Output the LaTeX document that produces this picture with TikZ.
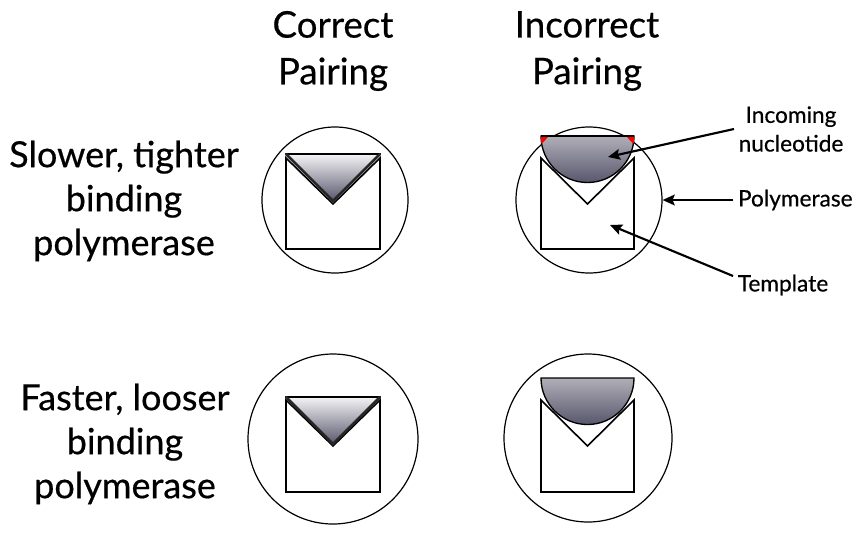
\documentclass[tikz,border=0pt]{standalone}
\usepackage{fontspec}
\setmainfont{Lato}[FakeBold=0.5]
\usetikzlibrary{arrows.meta,positioning,calc}
\definecolor{nucdark}{RGB}{88,86,108}
\definecolor{nuclight}{RGB}{244,244,246}
\definecolor{nucmid}{RGB}{176,175,184}

\begin{document}
\begin{tikzpicture}[x=0.75pt,y=-0.75pt]
\tikzset{
  head/.style ={align=center, font=\fontsize{27.5}{35}\selectfont},
  rowlbl/.style={align=center, font=\fontsize{27}{33}\selectfont},
  part/.style ={align=center, font=\fontsize{17}{21.5}\selectfont},
  pol/.style  ={draw, circle, line width=0.9pt, inner sep=0pt},
  tmpl/.style ={draw, line width=1.2pt, fill=white, line join=miter},
  tri/.style  ={top color=nuclight, bottom color=nucdark},
  half/.style ={top color=nucmid, bottom color=nucdark, draw, line width=1pt},
  edge/.style ={line width=2pt, line cap=round, draw=black!85},
  ptr/.style  ={-{Stealth[length=9pt,width=8pt,inset=1.5pt]}, line width=1.6pt}
}
\useasboundingbox (0,0) rectangle (864,537);
% column and row titles
\node (hc)[head] at (333,51) {Correct\\Pairing};
\node (hi)[head] at (587,51) {Incorrect\\Pairing};
\node (rs)[rowlbl] at (124,201) {Slower, tighter\\binding\\polymerase};
\node (rf)[rowlbl] at (125,444) {Faster, looser\\binding\\polymerase};
% polymerases
\node (p1)[pol, minimum size=109.5pt] at (335,200) {};
\node (p2)[pol, minimum size=109.5pt] at (589,200) {};
\node (p3)[pol, minimum size=127.5pt] at (333,439) {};
\node (p4)[pol, minimum size=126pt] at (588,438) {};
% tight, correct
\draw[tmpl] (286,158) -- (333,204) -- (380,158) -- (380,249) -- (286,249) -- cycle;
\shade[tri] (286,154) -- (380,154) -- (333,201) -- cycle;
\draw[line width=0.9pt] (286,154) -- (380,154);
\draw[edge] (286,154) -- (333,201) -- (380,154);
% tight, incorrect
\draw[tmpl] (541,158) -- (587.5,204) -- (634,158) -- (634,249) -- (541,249) -- cycle;
\shade[half] (541,136) -- (634,136) arc[start angle=0, end angle=180, radius=46.5] -- cycle;
\fill[red] (541,136) -- (549,136) -- (542.5,143) -- (541,143) -- cycle;
\fill[red] (634,136) -- (626,136) -- (632.5,143) -- (634,143) -- cycle;
\draw[line width=1pt] (541,136) -- (634,136);
% loose, correct
\draw[tmpl] (286,400) -- (333,446) -- (380,400) -- (380,492) -- (286,492) -- cycle;
\shade[tri] (286,397) -- (380,397) -- (333,444) -- cycle;
\draw[line width=0.9pt] (286,397) -- (380,397);
\draw[edge] (286,397) -- (333,444) -- (380,397);
% loose, incorrect
\draw[tmpl] (541,400) -- (587.5,446) -- (634,400) -- (634,492) -- (541,492) -- cycle;
\shade[half] (541,378) -- (634,378) arc[start angle=0, end angle=180, radius=46.5] -- cycle;
% part labels
\node (inc)[part] at (791,129) {Incoming\\nucleotide};
\node (pl)[part, right=53pt of p2] {Polymerase};
\node (tl)[part] at (783,285) {Template};
\coordinate (nuc) at (608,157);
\coordinate (tpl) at (610,225);
\draw[ptr] (inc.west) -- (nuc);
\draw[ptr] (pl.west) -- (p2.east);
\draw[ptr] ($(tl.west)+(0,-9)$) -- (tpl);
\end{tikzpicture}
\end{document}
